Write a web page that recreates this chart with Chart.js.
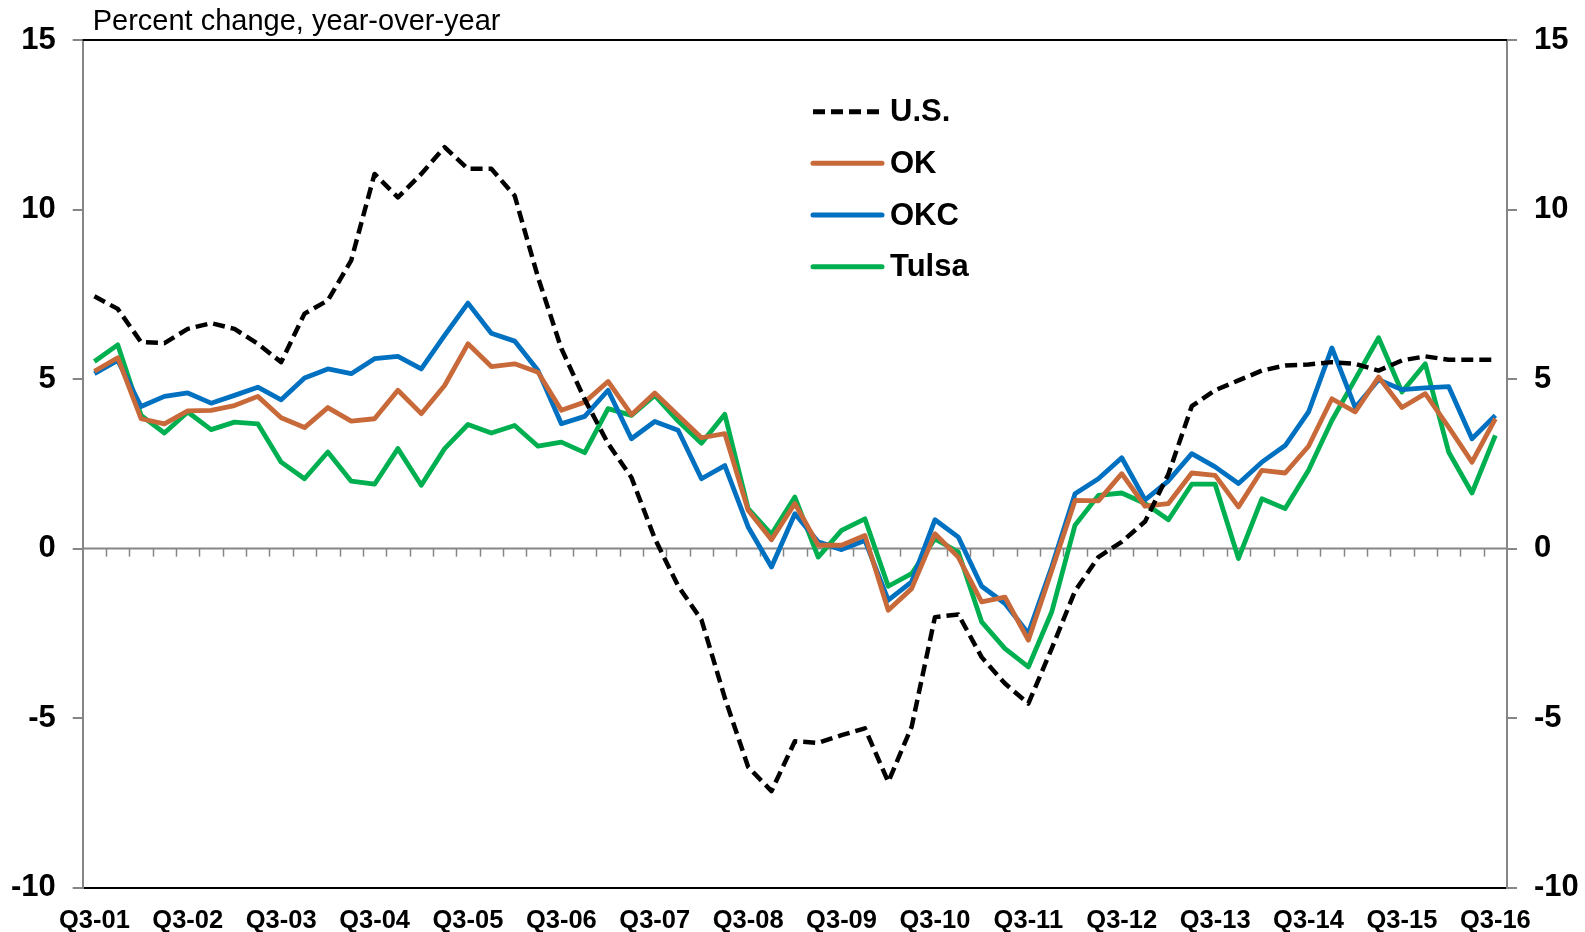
<!DOCTYPE html>
<html>
<head>
<meta charset="utf-8">
<script src="https://cdn.jsdelivr.net/npm/chart.js@4.4.1/dist/chart.umd.min.js"></script>
<style>
  html, body { margin: 0; padding: 0; background: #ffffff; }
  #wrap { width: 1585px; height: 932px; position: relative; }
  canvas { display: block; }
</style>
</head>
<body>
<div id="wrap"><canvas id="c" width="1585" height="932"></canvas></div>
<script>
const categories = [
  "Q3-01","Q4-01","Q1-02","Q2-02","Q3-02","Q4-02","Q1-03","Q2-03","Q3-03","Q4-03",
  "Q1-04","Q2-04","Q3-04","Q4-04","Q1-05","Q2-05","Q3-05","Q4-05","Q1-06","Q2-06",
  "Q3-06","Q4-06","Q1-07","Q2-07","Q3-07","Q4-07","Q1-08","Q2-08","Q3-08","Q4-08",
  "Q1-09","Q2-09","Q3-09","Q4-09","Q1-10","Q2-10","Q3-10","Q4-10","Q1-11","Q2-11",
  "Q3-11","Q4-11","Q1-12","Q2-12","Q3-12","Q4-12","Q1-13","Q2-13","Q3-13","Q4-13",
  "Q1-14","Q2-14","Q3-14","Q4-14","Q1-15","Q2-15","Q3-15","Q4-15","Q1-16","Q2-16",
  "Q3-16"
];

const usValues = [
  7.44, 7.07, 6.09, 6.06, 6.48, 6.65, 6.48, 6.04, 5.5, 6.93,
  7.32, 8.5, 11.05, 10.36, 11.05, 11.84, 11.2, 11.2, 10.41, 8.0,
  5.9, 4.4, 3.1, 2.1, 0.3, -1.1, -2.1, -4.4, -6.44, -7.15,
  -5.68, -5.73, -5.5, -5.3, -6.88, -5.26, -2.02, -1.94, -3.2, -3.98,
  -4.57, -2.95, -1.25, -0.25, 0.2, 0.8, 2.2, 4.2, 4.67, 4.96,
  5.25, 5.4, 5.43, 5.5, 5.45, 5.25, 5.55, 5.67, 5.57, 5.57,
  5.57
];

const okValues = [
  5.23, 5.63, 3.83, 3.68, 4.06, 4.08, 4.22, 4.49, 3.86, 3.57,
  4.16, 3.76, 3.83, 4.67, 3.98, 4.81, 6.04, 5.37, 5.45, 5.2,
  4.08, 4.32, 4.93, 3.95, 4.59, 3.93, 3.27, 3.39, 1.13, 0.26,
  1.33, 0.1, 0.1, 0.39, -1.82, -1.18, 0.44, -0.25, -1.57, -1.43,
  -2.7, -0.65, 1.42, 1.41, 2.21, 1.25, 1.33, 2.23, 2.16, 1.23,
  2.31, 2.23, 3.02, 4.42, 4.03, 5.06, 4.16, 4.57, 3.58, 2.55,
  3.83
];

const okcValues = [
  5.16, 5.55, 4.19, 4.49, 4.59, 4.29, 4.52, 4.76, 4.39, 5.03,
  5.3, 5.16, 5.6, 5.67, 5.3, 6.29, 7.24, 6.35, 6.12, 5.25,
  3.68, 3.9, 4.67, 3.24, 3.75, 3.49, 2.06, 2.45, 0.64, -0.54,
  1.03, 0.2, -0.03, 0.24, -1.52, -0.98, 0.85, 0.34, -1.11, -1.62,
  -2.5, -0.54, 1.62, 2.06, 2.68, 1.44, 2.0, 2.8, 2.41, 1.92,
  2.55, 3.04, 4.03, 5.92, 4.16, 4.98, 4.69, 4.74, 4.78, 3.24,
  3.93
];

const tulsaValues = [
  5.52, 6.01, 3.93, 3.41, 4.03, 3.51, 3.73, 3.68, 2.55, 2.06,
  2.85, 1.99, 1.9, 2.95, 1.87, 2.95, 3.66, 3.41, 3.63, 3.02,
  3.14, 2.83, 4.13, 3.93, 4.52, 3.76, 3.11, 3.96, 1.18, 0.42,
  1.52, -0.25, 0.54, 0.88, -1.11, -0.74, 0.29, -0.1, -2.16, -2.95,
  -3.49, -1.87, 0.69, 1.57, 1.64, 1.33, 0.85, 1.9, 1.9, -0.29,
  1.47, 1.18, 2.31, 3.78, 5.0, 6.22, 4.62, 5.45, 2.85, 1.64,
  3.34
];

const seriesNames = ["U.S.", "OK", "OKC", "Tulsa"];
const yTicks = [-10, -5, 0, 5, 10, 15];
const titleText = "Percent change, year-over-year";

const FONT = '"Liberation Sans", Arial, Helvetica, sans-serif';
const AXIS_GRAY = '#868686';

const zeroLinePlugin = {
  id: 'zeroLine',
  beforeDatasetsDraw(chart) {
    const { ctx, chartArea, scales } = chart;
    const x = scales.x, y = scales.y;
    const y0 = y.getPixelForValue(0);
    ctx.save();
    ctx.strokeStyle = AXIS_GRAY;
    ctx.lineWidth = 2;
    ctx.beginPath();
    ctx.moveTo(chartArea.left, y0);
    ctx.lineTo(chartArea.right, y0);
    ctx.stroke();
    ctx.lineWidth = 1.5;
    for (let k = 1; k < categories.length; k++) {
      const bx = Math.round((x.getPixelForValue(k - 1) + x.getPixelForValue(k)) / 2) + 0.5;
      ctx.beginPath();
      ctx.moveTo(bx, y0);
      ctx.lineTo(bx, y0 + 8);
      ctx.stroke();
    }
    ctx.restore();
  }
};

const framePlugin = {
  id: 'frame',
  afterDraw(chart) {
    const { ctx, chartArea } = chart;
    ctx.save();
    ctx.strokeStyle = '#000000';
    ctx.lineWidth = 2;
    ctx.beginPath();
    ctx.moveTo(chartArea.left, chartArea.top);
    ctx.lineTo(chartArea.right, chartArea.top);
    ctx.stroke();
    ctx.fillStyle = '#000000';
    ctx.font = '29px ' + FONT;
    ctx.textBaseline = 'alphabetic';
    ctx.textAlign = 'left';
    ctx.fillText(titleText, chartArea.left + 10, 30);
    const rows = [111.7, 163.3, 215, 266.7];
    chart.data.datasets.forEach((ds, i) => {
      const yy = rows[i];
      ctx.strokeStyle = ds.borderColor;
      ctx.lineWidth = 5;
      ctx.lineCap = ds.borderDash && ds.borderDash.length ? 'butt' : 'round';
      ctx.setLineDash(ds.borderDash || []);
      ctx.beginPath();
      ctx.moveTo(813, yy);
      ctx.lineTo(882, yy);
      ctx.stroke();
      ctx.setLineDash([]);
      ctx.fillStyle = '#000000';
      ctx.font = 'bold 31px ' + FONT;
      ctx.textBaseline = 'middle';
      ctx.fillText(ds.label, 890, yy + 1);
    });
    ctx.restore();
  }
};

const yAxisCommon = {
  min: -10,
  max: 15,
  afterBuildTicks(scale) { scale.ticks = yTicks.map(v => ({ value: v })); },
  ticks: {
    color: '#000000',
    font: { family: FONT, size: 31, weight: 'bold' },
    padding: 17
  },
  grid: {
    drawOnChartArea: false,
    drawTicks: true,
    tickLength: 10,
    color: AXIS_GRAY,
    lineWidth: 2
  },
  border: { display: true, color: AXIS_GRAY, width: 2 }
};

new Chart(document.getElementById('c'), {
  type: 'line',
  data: {
    labels: categories,
    datasets: [
      { label: seriesNames[0], data: usValues, borderColor: '#000000', borderDash: [12, 6], borderWidth: 4.5, borderCapStyle: 'butt' },
      { label: seriesNames[1], data: okValues, borderColor: '#C8693A', borderWidth: 4.8 },
      { label: seriesNames[2], data: okcValues, borderColor: '#0070C0', borderWidth: 4.8 },
      { label: seriesNames[3], data: tulsaValues, borderColor: '#00B050', borderWidth: 4.8 }
    ].map(d => Object.assign({ pointRadius: 0, pointHoverRadius: 0, tension: 0, fill: false, borderJoinStyle: 'round' }, d))
  },
  options: {
    responsive: false,
    animation: false,
    devicePixelRatio: 1,
    layout: { padding: { top: 40, left: 0, right: 0, bottom: 0 } },
    plugins: {
      legend: { display: false },
      title: { display: false },
      tooltip: { enabled: false }
    },
    scales: {
      x: {
        type: 'category',
        offset: true,
        grid: { display: false, drawTicks: false },
        border: { display: true, color: '#000000', width: 2 },
        ticks: {
          autoSkip: false,
          maxRotation: 0,
          minRotation: 0,
          color: '#000000',
          padding: 18,
          font: { family: FONT, size: 25.5, weight: 'bold' },
          callback(value, index) { const l = categories[index]; return l.startsWith('Q3') ? l : ''; }
        },
        afterFit(scale) { scale.height = 932 - 887.7; }
      },
      y: Object.assign({}, yAxisCommon, {
        position: 'left',
        afterFit(scale) { scale.width = 82.7; }
      }),
      y2: Object.assign({}, yAxisCommon, {
        position: 'right',
        afterFit(scale) { scale.width = 1585 - 1507; }
      })
    }
  },
  plugins: [zeroLinePlugin, framePlugin]
});
</script>
</body>
</html>
